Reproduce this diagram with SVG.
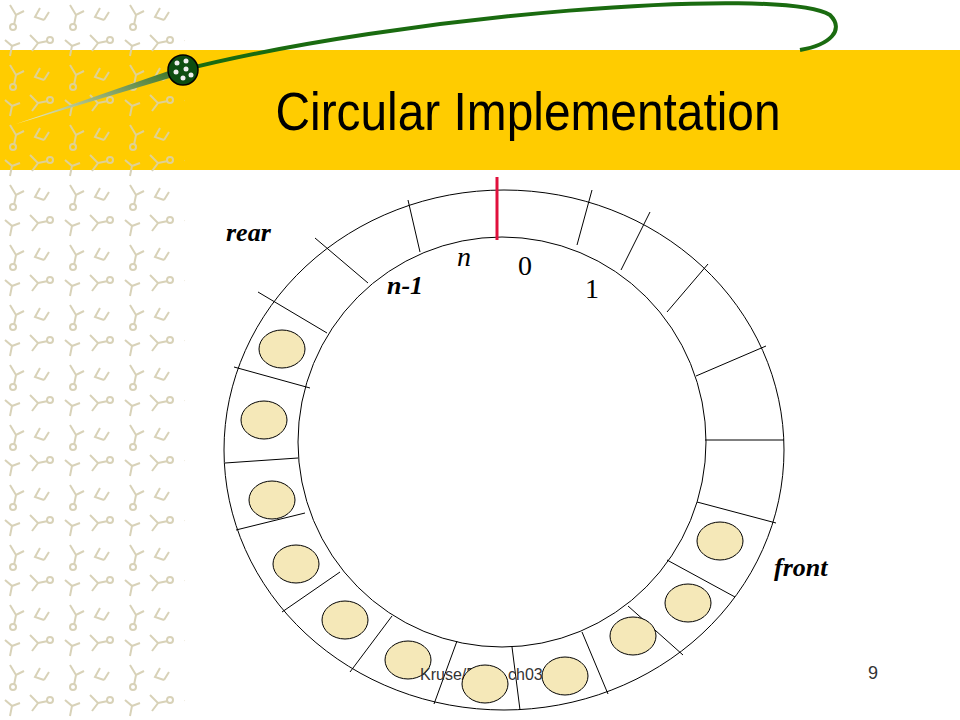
<svg xmlns="http://www.w3.org/2000/svg" width="960" height="720" viewBox="0 0 960 720">
<defs>
<pattern id="pat" width="60" height="60" patternUnits="userSpaceOnUse">
<g stroke="#d8d2b8" stroke-width="2" fill="none">
<path d="M10 5 l6 10 l8 -4 M16 15 l-2 10"/><circle cx="13" cy="27" r="3"/>
<path d="M40 8 l-5 9 l9 3 M44 20 l5 -8"/><path d="M30 35 l8 8 l-6 8 M38 43 l10 -2"/>
<circle cx="50" cy="40" r="3"/><path d="M5 40 l7 6 l-2 10 M12 46 l8 -3"/>
</g>
</pattern>
<linearGradient id="tail" x1="0" y1="1" x2="1" y2="0"><stop offset="0" stop-color="#f5f0c8"/><stop offset="1" stop-color="#2e6b1e"/></linearGradient>
<style>
.ring{fill:none;stroke:#000;stroke-width:1}
.div{stroke:#000;stroke-width:1}
.item{fill:#f5e8b8;stroke:#000;stroke-width:1}
.lbl{font-family:"Liberation Serif",serif;font-style:italic;font-weight:bold;font-size:26px}
.num{font-family:"Liberation Serif",serif;font-size:28px}
</style>
</defs>
<rect width="960" height="720" fill="#fff"/>
<rect x="0" y="0" width="185" height="720" fill="url(#pat)"/>
<rect x="0" y="50" width="960" height="120" fill="#ffcc00"/>
<rect x="0" y="50" width="185" height="120" fill="url(#pat)" opacity="0.8"/>
<path d="M183 70 C 400 15, 780 -15, 830 15 C 845 30, 830 45, 800 50" fill="none" stroke="#1a6b10" stroke-width="4"/>
<path d="M183 66 L 16 124 L 183 74 Z" fill="url(#tail)"/>
<circle cx="183" cy="70" r="15" fill="#0d4d10" stroke="#000" stroke-width="1.5"/>
<g fill="#eee"><circle cx="177" cy="63" r="2.5"/><circle cx="186" cy="61" r="2.5"/><circle cx="176" cy="72" r="2.5"/><circle cx="186" cy="69" r="2.5"/><circle cx="183" cy="78" r="2.5"/><circle cx="191" cy="75" r="2.5"/></g>
<text x="528" y="130" text-anchor="middle" font-family="'Liberation Sans Narrow','Liberation Sans',sans-serif" font-size="54" textLength="505" lengthAdjust="spacingAndGlyphs">Circular Implementation</text>

<g id="ring">
<ellipse class="ring" cx="504" cy="450" rx="280" ry="260"/>
<ellipse class="ring" cx="502" cy="442" rx="204" ry="205"/>
</g>
<g id="connectors">
<line class="div" x1="577" y1="245" x2="592" y2="190"/>
<line class="div" x1="621" y1="270" x2="650" y2="212"/>
<line class="div" x1="667" y1="312" x2="708" y2="264"/>
<line class="div" x1="696" y1="376" x2="766" y2="346"/>
<line class="div" x1="705" y1="440" x2="784" y2="440"/>
<line class="div" x1="697" y1="502" x2="776" y2="523"/>
<line class="div" x1="667" y1="560" x2="735" y2="597"/>
<line class="div" x1="628" y1="606" x2="683" y2="655"/>
<line class="div" x1="582" y1="632" x2="608" y2="694"/>
<line class="div" x1="512" y1="647" x2="520" y2="710"/>
<line class="div" x1="457" y1="641" x2="434" y2="704"/>
<line class="div" x1="392" y1="616" x2="350" y2="672"/>
<line class="div" x1="340" y1="572" x2="282" y2="612"/>
<line class="div" x1="305" y1="513" x2="236" y2="530"/>
<line class="div" x1="298" y1="458" x2="225" y2="463"/>
<line class="div" x1="310" y1="388" x2="234" y2="367"/>
<line class="div" x1="327" y1="333" x2="258" y2="292"/>
<line class="div" x1="368" y1="283" x2="315" y2="238"/>
<line class="div" x1="420" y1="252" x2="408" y2="200"/>
<line x1="497" y1="177" x2="497" y2="240" stroke="#e0103c" stroke-width="3"/>
</g>
<g id="items">
<ellipse class="item" cx="282" cy="349" rx="23" ry="19"/>
<ellipse class="item" cx="264" cy="420" rx="23" ry="19"/>
<ellipse class="item" cx="272" cy="500" rx="23" ry="19"/>
<ellipse class="item" cx="296" cy="564" rx="23" ry="19"/>
<ellipse class="item" cx="345" cy="620" rx="23" ry="19"/>
<ellipse class="item" cx="408" cy="660" rx="23" ry="19"/>
<ellipse class="item" cx="565" cy="676" rx="23" ry="19"/>
<ellipse class="item" cx="633" cy="636" rx="23" ry="19"/>
<ellipse class="item" cx="688" cy="603" rx="23" ry="19"/>
<ellipse class="item" cx="720" cy="541" rx="23" ry="19"/>
</g>
<text x="420" y="680" font-family="'Liberation Sans',sans-serif" font-size="16" fill="#333">Kruse/Ryba ch03</text>
<ellipse class="item" cx="485" cy="684" rx="23" ry="19"/>
<text x="873" y="679" font-family="'Liberation Sans',sans-serif" font-size="18" fill="#333" text-anchor="middle">9</text>
<g id="labels">
<text class="lbl" x="226" y="241">rear</text>
<text class="lbl" x="774" y="576">front</text>
<text class="lbl" x="387" y="294" font-size="22">n-1</text>
<text x="457" y="266" font-family="'Liberation Serif',serif" font-style="italic" font-size="28">n</text>
<text class="num" x="518" y="275">0</text>
<text class="num" x="585" y="298">1</text>
</g>
</svg>
